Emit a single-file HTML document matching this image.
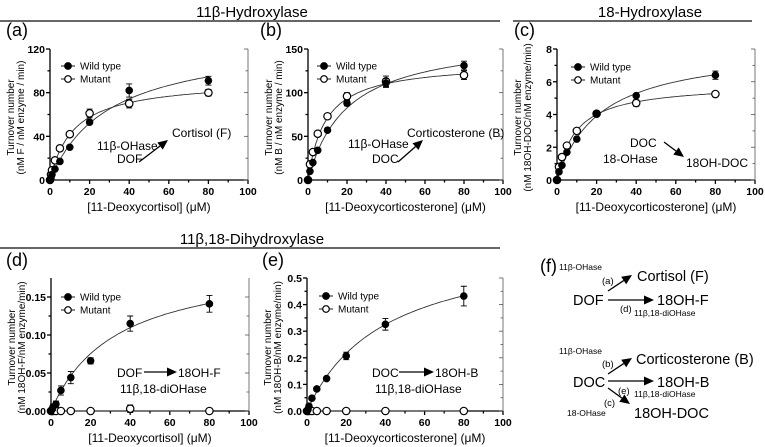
<!DOCTYPE html>
<html><head><meta charset="utf-8">
<style>
body{margin:0;background:#fff;}
svg{display:block;font-family:"Liberation Sans",Arial,sans-serif;}
</style></head>
<body>
<svg id="fig" width="765" height="447" viewBox="0 0 765 447">
<g>
<text x="252" y="17" font-size="15" text-anchor="middle">11β-Hydroxylase</text>
<line x1="0" y1="21" x2="500" y2="21" stroke="#666" stroke-width="2"/></g>
<g>
<text x="650" y="17" font-size="15" text-anchor="middle">18-Hydroxylase</text>
<line x1="513" y1="21" x2="752" y2="21" stroke="#666" stroke-width="2"/></g>
<g>
<text x="252" y="244" font-size="15" text-anchor="middle">11β,18-Dihydroxylase</text>
<line x1="0" y1="248" x2="500" y2="248" stroke="#666" stroke-width="2"/></g>

<g fill="#000">
<text x="540" y="272" font-size="18">(f)</text>
<text x="559" y="270" font-size="8.5">11β-OHase</text>
<text x="602" y="284" font-size="9.5">(a)</text>
<text x="637" y="281" font-size="14.5">Cortisol (F)</text>
<text x="573" y="305" font-size="14.5">DOF</text>
<text x="657" y="305" font-size="14.5">18OH-F</text>
<text x="620" y="312" font-size="9.5">(d)</text>
<text x="634" y="316" font-size="8.5">11β,18-diOHase</text>
<text x="559" y="354" font-size="8.5">11β-OHase</text>
<text x="602" y="367" font-size="9.5">(b)</text>
<text x="636" y="364" font-size="14.5">Corticosterone (B)</text>
<text x="573" y="387" font-size="14.5">DOC</text>
<text x="657" y="387" font-size="14.5">18OH-B</text>
<text x="618" y="394" font-size="9.5">(e)</text>
<text x="634" y="397" font-size="8.5">11β,18-diOHase</text>
<text x="604" y="406" font-size="9.5">(c)</text>
<text x="567" y="416" font-size="8.5">18-OHase</text>
<text x="634" y="418" font-size="14.5">18OH-DOC</text>
</g>
<g id="fArrows"></g>
</svg>
<script>
// Panel (a)
const aX=[0,0.5,1,2.5,5,10,20,40,80];
const aWT=[0,2,5,10,17,30,53,82,91];
const aWTerr=[0,0,0,0,0,0,2,6,4];
const aMut=[0,5,9,18,29,42,61,70,80];
const aMuterr=[0,0,0,0,0,0,4,4,3];
const aFitWT=[130,30];const aFitMut=[92,12];
const aYTicks=[0,40,80,120];
// Panel (b)
const bX=[0,1,2.5,5,10,20,40,80];
const bWT=[0,10,20,34,57,88,111,131];
const bWTerr=[0,0,0,0,0,3,5,5];
const bMut=[0,18,32,53,73,96,113,120];
const bMuterr=[0,0,0,0,3,4,6,5];
const bFitWT=[165,20];const bFitMut=[135,9];
const bYTicks=[0,50,100,150];
// Panel (c)
const cX=[0,1,2.5,5,10,20,40,80];
const cWT=[0,0.5,0.9,1.7,2.5,4.05,5.15,6.4];
const cWTerr=[0,0,0,0,0,0,0.1,0.25];
const cMut=[0,0.8,1.4,2.1,3.0,4.05,4.7,5.25];
const cMuterr=[0,0,0,0,0,0,0.2,0.15];
const cFitWT=[8.2,22];const cFitMut=[5.9,9.5];
const cYTicks=[0,2,4,6,8];
// Panel (d)
const dX=[0,0.5,1,2.5,5,10,20,40,80];
const dWT=[0,0.002,0.005,0.009,0.027,0.044,0.066,0.115,0.141];
const dWTerr=[0,0,0.004,0.004,0.006,0.008,0.004,0.01,0.011];
const dMut=[0,0,0,0,0,0,0,0.003,0];
const dMuterr=[0,0,0,0,0,0,0,0.005,0];
const dFitWT=[0.2,33];
const dYTicks=[0,0.05,0.10,0.15];
const dYLabels=["0.00","0.05","0.10","0.15"];
// Panel (e)
const eX=[0,0.5,1,2.5,5,10,20,40,80];
const eWT=[0,0.005,0.018,0.048,0.083,0.122,0.207,0.326,0.432];
const eWTerr=[0,0,0,0,0,0,0.014,0.022,0.037];
const eMut=[0,0,0,0,0,0,0,0,0];
const eMuterr=[0,0,0,0,0,0,0,0,0];
const eFitWT=[0.65,40];
const eYTicks=[0,0.1,0.2,0.3,0.4,0.5];
const eYLabels=["0.0","0.1","0.2","0.3","0.4","0.5"];
const xTicks=[0,20,40,60,80,100];

const NS="http://www.w3.org/2000/svg";
const svg=document.getElementById('fig');
function mk(tag,attrs,parent,txt){const e=document.createElementNS(NS,tag);for(const k in attrs)e.setAttribute(k,attrs[k]);if(txt!==undefined)e.textContent=txt;(parent||svg).appendChild(e);return e;}

function panel(p){
  const g=mk('g',{});
  
  
  const sx=v=>p.x0+(v/100)*(p.x1-p.x0);
  const sy=v=>p.y0-(v/p.ymax)*(p.y0-p.yTop);
  const ax=mk('g',{stroke:'#000','stroke-width':1.3,fill:'none'},g);
  
  
  mk('line',{x1:p.x0,y1:p.yTop,x2:p.x0,y2:p.y0},ax);
  mk('line',{x1:p.x0,y1:p.y0,x2:p.x1,y2:p.y0},ax);
  mk('line',{x1:p.x1,y1:p.yTop,x2:p.x1,y2:p.y0,'stroke-width':0.8,stroke:'#555'},ax);
  for(let v=0;v<=100;v+=10){const x=sx(v);const big=v%20===0;mk('line',{x1:x,y1:p.y0,x2:x,y2:p.y0+(big?4:2.5)},ax);}
  xTicks.forEach(v=>{const t=mk('text',{x:sx(v),y:p.y0+15,'font-size':10.5,'font-weight':'bold','text-anchor':'middle',fill:'#000',stroke:'none'},g,String(v));
    });
  const yt=p.yTicks;
  for(let i=0;i<yt.length;i++){
    const y=sy(yt[i]);
    mk('line',{x1:p.x0-4,y1:y,x2:p.x0,y2:y},ax);
    mk('line',{x1:p.x1,y1:y,x2:p.x1-4,y2:y,'stroke-width':0.8,stroke:'#555'},ax);
    if(i<yt.length-1){const ym=sy((yt[i]+yt[i+1])/2);mk('line',{x1:p.x0-2.5,y1:ym,x2:p.x0,y2:ym},ax);mk('line',{x1:p.x1,y1:ym,x2:p.x1-2.5,y2:ym,'stroke-width':0.8,stroke:'#555'},ax);}
    const t=mk('text',{x:p.x0-5,y:y+4,'font-size':10.5,'font-weight':'bold','text-anchor':'end'},g,p.yLabels?p.yLabels[i]:String(yt[i]));
    
  }
  const xt=mk('text',{x:(p.x0+p.x1)/2,y:p.y0+31,'font-size':12,'text-anchor':'middle'},g,p.xTitle);
  
  const cy=(p.y0+p.yTop)/2+3;
  const yt1=mk('text',{x:0,y:0,'font-size':10,'text-anchor':'middle',transform:`translate(${p.x0-36},${cy}) rotate(-90)`},g,'Turnover number');
  
  const yt2=mk('text',{x:0,y:0,'font-size':10,'text-anchor':'middle',transform:`translate(${p.x0-26},${cy}) rotate(-90)`},g,p.yTitle2);
  
  const pl=mk('text',{x:p.labX,y:p.labY,'font-size':18},g,'('+p.id+')');
  
  function fit(par,name){let d='';for(let v=0;v<=80;v+=1){const y=par[0]*v/(par[1]+v);d+=(v?'L':'M')+sx(v).toFixed(1)+','+sy(y).toFixed(1);}
    const c=mk('path',{d:d,fill:'none',stroke:'#333','stroke-width':0.9},g);}
  if(p.fitWT)fit(p.fitWT,'fit-curve-wild-type');
  if(p.fitMut)fit(p.fitMut,'fit-curve-mutant');
  else if(p.mutLine){const c=mk('line',{x1:sx(0),y1:sy(0),x2:sx(80),y2:sy(0),stroke:'#333','stroke-width':0.9},g);}
  function series(ys,errs,filled,name){
    const sg=mk('g',{},g);
    ys.forEach((v,i)=>{const x=sx(p.xs[i]),y=sy(v);const e=errs[i];
      if(e>0){const y1=sy(v+e),y2=sy(v-e);mk('path',{d:`M${x},${y1}V${y2}M${x-3},${y1}H${x+3}M${x-3},${y2}H${x+3}`,stroke:'#000','stroke-width':0.9,fill:'none'},sg);}
      const m=mk('circle',{cx:x,cy:y,r:filled?3.2:3.7,fill:filled?'#000':'#fff',stroke:'#000','stroke-width':1.2},sg);
      });
  }
  series(p.mut,p.muterr,false,'series-mutant');
  series(p.wt,p.wterr,true,'series-wild-type');
  const lg=mk('g',{},g);
  [[p.legY,true,'Wild type'],[p.legY+13,false,'Mutant']].forEach(r=>{
    const e=mk('g',{},lg);
    mk('line',{x1:p.legX-7,y1:r[0],x2:p.legX+7,y2:r[0],stroke:'#000','stroke-width':0.9},e);
    mk('circle',{cx:p.legX,cy:r[0],r:3.3,fill:r[1]?'#000':'#fff',stroke:'#000','stroke-width':1.2},e);
    mk('text',{x:p.legX+12,y:r[0]+3.5,'font-size':10},e,r[2]);});
  return g;
}
function arrow(x1,y1,x2,y2,parent){const g=mk('g',{},parent||svg);
  
  const a=Math.atan2(y2-y1,x2-x1),L=10,W=4.5;
  const bx=x2-L*Math.cos(a),by=y2-L*Math.sin(a);
  mk('line',{x1:x1,y1:y1,x2:bx,y2:by,stroke:'#000','stroke-width':1.3},g);
  mk('polygon',{points:`${x2},${y2} ${bx-W*Math.sin(a)},${by+W*Math.cos(a)} ${bx+W*Math.sin(a)},${by-W*Math.cos(a)}`,fill:'#000'},g);}
function note(x,y,s,fs,name){const t=mk('text',{x:x,y:y,'font-size':fs||12},svg,s);}

panel({id:'a',x0:50,x1:248,y0:180,yTop:49,ymax:120,yTicks:aYTicks,xs:aX,wt:aWT,wterr:aWTerr,mut:aMut,muterr:aMuterr,fitWT:aFitWT,fitMut:aFitMut,legX:68,legY:66,labX:6,labY:36,xTitle:'[11-Deoxycortisol] (μM)',yTitle2:'(nM F / nM enzyme / min)'});
panel({id:'b',x0:308,x1:503,y0:180,yTop:49,ymax:150,yTicks:bYTicks,xs:bX,wt:bWT,wterr:bWTerr,mut:bMut,muterr:bMuterr,fitWT:bFitWT,fitMut:bFitMut,legX:324,legY:66,labX:260,labY:36,xTitle:'[11-Deoxycorticosterone] (μM)',yTitle2:'(nM B / nM enzyme / min)'});
panel({id:'c',x0:557,x1:755,y0:180,yTop:49,ymax:8,yTicks:cYTicks,xs:cX,wt:cWT,wterr:cWTerr,mut:cMut,muterr:cMuterr,fitWT:cFitWT,fitMut:cFitMut,legX:578,legY:67,labX:514,labY:36,xTitle:'[11-Deoxycorticosterone] (μM)',yTitle2:'(nM 18OH-DOC/nM enzyme/min)'});
panel({id:'d',x0:51,x1:249,y0:411,yTop:278,ymax:0.175,yTicks:dYTicks,yLabels:dYLabels,xs:dX,wt:dWT,wterr:dWTerr,mut:dMut,muterr:dMuterr,fitWT:dFitWT,mutLine:true,legX:68,legY:297,labX:6,labY:266,xTitle:'[11-Deoxycortisol] (μM)',yTitle2:'(nM 18OH-F/nM enzyme/min)'});
panel({id:'e',x0:307,x1:503,y0:411,yTop:278,ymax:0.5,yTicks:eYTicks,yLabels:eYLabels,xs:eX,wt:eWT,wterr:eWTerr,mut:eMut,muterr:eMuterr,fitWT:eFitWT,mutLine:true,legX:326,legY:296,labX:262,labY:266,xTitle:'[11-Deoxycorticosterone] (μM)',yTitle2:'(nM 18OH-B/nM enzyme/min)'});

note(97,150,'11β-OHase',12,'annotation-enzyme-a');note(117,163,'DOF',12,'annotation-substrate-a');note(172,137,'Cortisol (F)',12,'annotation-product-a');arrow(139,162,168,140);
note(348,148,'11β-OHase',12,'annotation-enzyme-b');note(372,163,'DOC',12,'annotation-substrate-b');note(407,137,'Corticosterone (B)',12,'annotation-product-b');arrow(398,162,423,140);
note(630,147,'DOC',12,'annotation-substrate-c');note(603,163,'18-OHase',12,'annotation-enzyme-c');note(686,167,'18OH-DOC',12,'annotation-product-c');arrow(664,142,684,157);
note(117,377,'DOF',12,'annotation-substrate-d');note(178,377,'18OH-F',12,'annotation-product-d');note(120,393,'11β,18-diOHase',12,'annotation-enzyme-d');arrow(144,372,177,372);
note(372,377,'DOC',12,'annotation-substrate-e');note(435,377,'18OH-B',12,'annotation-product-e');note(375,393,'11β,18-diOHase',12,'annotation-enzyme-e');arrow(399,372,434,372);
const fa=document.getElementById('fArrows');
arrow(608,291,632,275,fa);arrow(608,300,654,300,fa);arrow(608,374,632,358,fa);arrow(608,381,654,381,fa);arrow(608,388,630,404,fa);
</script>
</body></html>
